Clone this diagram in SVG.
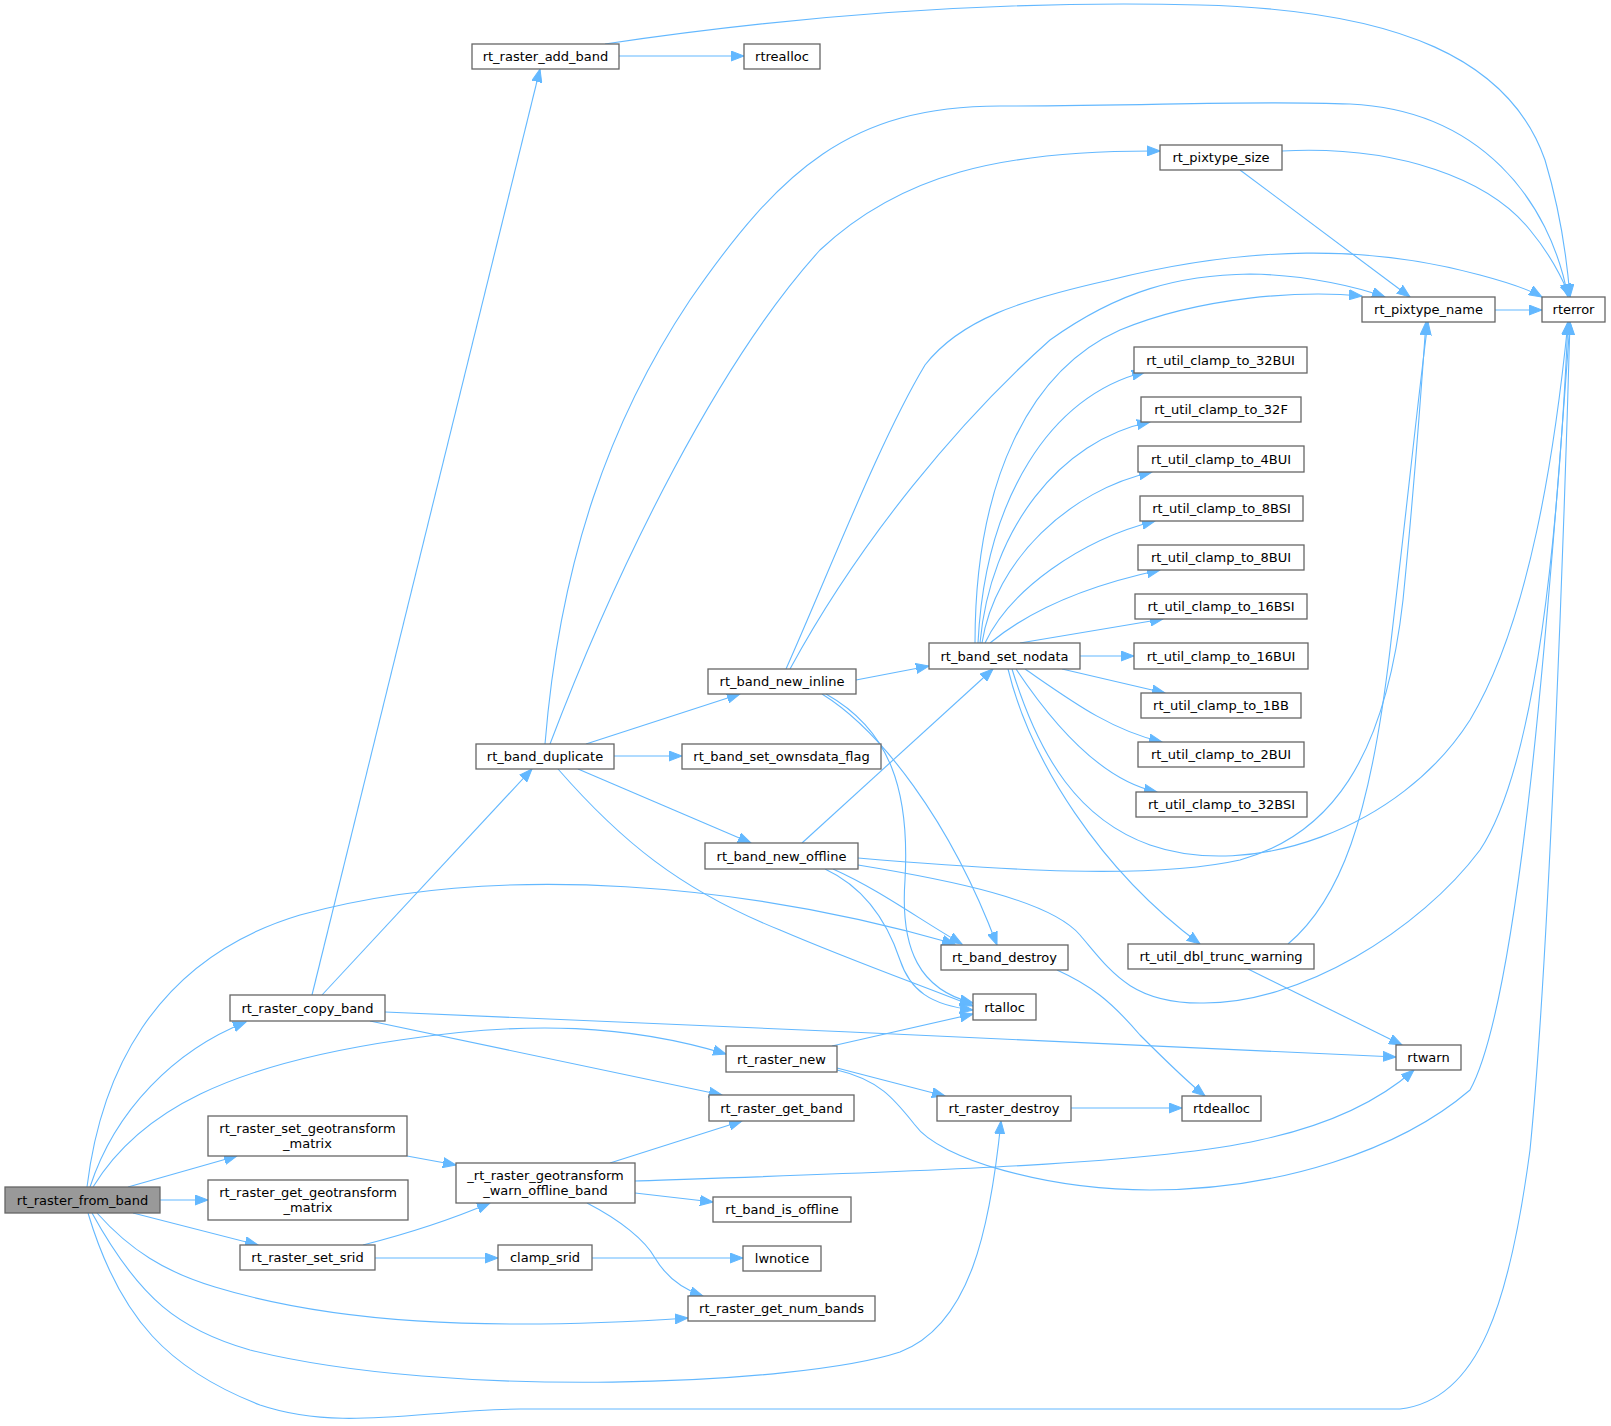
<svg xmlns="http://www.w3.org/2000/svg" width="1611" height="1426" viewBox="0 0 1611 1426">
<defs>
<style>
.n rect{fill:#ffffff;stroke:#666666;stroke-width:1.3}
.m rect{fill:#999999;stroke:#666666;stroke-width:1.3}
text{font-family:"DejaVu Sans","Liberation Sans",sans-serif;font-size:13px;text-anchor:middle;fill:#000000}
.e path{fill:none;stroke:#63b8ff;stroke-width:1.1;marker-end:url(#a)}
</style>
<marker id="a" markerWidth="14" markerHeight="11" refX="13" refY="5.5" orient="auto" markerUnits="userSpaceOnUse"><path d="M0,0.5 L13,5.5 L0,10.5 z" fill="#63b8ff" stroke="#63b8ff" stroke-width="1"/></marker>
</defs>
<rect width="1611" height="1426" fill="#ffffff"/>
<g id="edges" class="e">
<path d="M90,1187 C115,1110 175,1050 246,1022"/>
<path d="M87,1187 C100,1080 150,960 300,915 C500,860 750,885 955,944"/>
<path d="M93,1187 C140,1110 230,1065 400,1040 C530,1020 630,1025 726,1054"/>
<path d="M128,1187 L237,1156"/>
<path d="M160,1200 L208,1200"/>
<path d="M133,1213 L258,1245"/>
<path d="M97,1213 C130,1250 165,1272 215,1287 C330,1322 480,1332 688,1318"/>
<path d="M92,1213 C140,1300 180,1330 250,1350 C450,1400 800,1385 900,1352 C970,1325 990,1230 1001,1121"/>
<path d="M88,1213 C120,1320 170,1370 260,1405 C340,1432 420,1410 520,1409 L1400,1409 C1480,1400 1510,1300 1530,1150 C1550,950 1565,500 1570,322"/>
<path d="M312,995 L540,69"/>
<path d="M322,995 L532,769"/>
<path d="M385,1012 C700,1025 1100,1043 1396,1057"/>
<path d="M370,1021 L722,1095"/>
<path d="M619,56 L744,56"/>
<path d="M605,44 C800,15 1000,0 1200,5 C1400,10 1510,60 1545,160 C1560,210 1567,260 1570,297"/>
<path d="M545,744 C560,560 610,420 690,300 C780,170 850,106 1000,106 C1150,106 1250,100 1350,104 C1480,110 1550,200 1568,297"/>
<path d="M550,744 C620,560 720,360 820,250 C900,175 1000,150 1160,151"/>
<path d="M586,744 L740,694"/>
<path d="M614,756 L682,756"/>
<path d="M578,769 L751,843"/>
<path d="M558,769 C620,840 680,890 780,930 C850,960 920,985 973,1006"/>
<path d="M786,669 C830,570 880,440 925,365 C960,320 1020,300 1110,280 C1250,245 1370,245 1480,275 C1510,283 1530,290 1542,297"/>
<path d="M790,669 C860,540 960,420 1050,340 C1120,290 1180,275 1250,274 C1310,275 1360,288 1385,297"/>
<path d="M856,680 L929,666"/>
<path d="M822,694 C880,730 950,820 997,945"/>
<path d="M826,694 C890,730 910,790 905,880 C900,950 920,990 973,1003"/>
<path d="M802,843 L993,669"/>
<path d="M833,869 C880,890 920,920 962,944"/>
<path d="M825,869 C870,890 890,930 900,960 C910,990 930,1005 973,1010"/>
<path d="M858,865 C950,880 1050,900 1080,935 C1110,970 1130,1003 1200,1003 C1300,1005 1420,930 1480,850 C1540,760 1560,500 1568,322"/>
<path d="M858,858 C1000,870 1150,880 1240,860 C1330,835 1385,760 1403,600 C1415,480 1422,380 1426,322"/>
<path d="M975,643 C975,480 1030,370 1120,330 C1200,297 1300,290 1362,296"/>
<path d="M978,643 C985,500 1050,395 1145,372"/>
<path d="M980,643 C990,530 1060,440 1150,422"/>
<path d="M982,643 C995,560 1070,490 1152,472"/>
<path d="M985,643 C1010,590 1080,540 1155,521"/>
<path d="M990,643 C1030,610 1090,585 1160,570"/>
<path d="M1020,643 L1163,619"/>
<path d="M1080,656 L1134,656"/>
<path d="M1062,669 L1165,693"/>
<path d="M1025,669 C1070,700 1110,730 1162,742"/>
<path d="M1016,669 C1050,720 1100,780 1157,792"/>
<path d="M1008,669 C1030,760 1100,870 1200,944"/>
<path d="M1012,669 C1040,760 1080,820 1150,845 C1250,880 1400,830 1470,720 C1530,620 1555,450 1568,322"/>
<path d="M1248,969 L1402,1045"/>
<path d="M1288,944 C1340,900 1370,820 1390,650 C1410,480 1420,380 1428,322"/>
<path d="M1057,970 C1090,985 1110,1000 1140,1035 C1165,1060 1185,1080 1205,1096"/>
<path d="M1071,1108 L1182,1108"/>
<path d="M832,1046 L973,1014"/>
<path d="M837,1068 L945,1096"/>
<path d="M837,1070 C880,1080 895,1100 915,1125 C940,1160 1050,1190 1150,1190 C1280,1190 1400,1150 1470,1090 C1520,1000 1550,600 1570,322"/>
<path d="M610,1163 L742,1121"/>
<path d="M635,1181 C900,1172 1150,1165 1260,1140 C1330,1125 1380,1100 1414,1070"/>
<path d="M635,1193 L713,1202"/>
<path d="M587,1203 C620,1220 645,1240 655,1258 C668,1280 685,1290 703,1296"/>
<path d="M363,1245 C410,1233 450,1220 490,1203"/>
<path d="M375,1258 L498,1258"/>
<path d="M592,1258 L743,1258"/>
<path d="M407,1156 L456,1165"/>
<path d="M1282,151 C1400,145 1490,180 1530,230 C1555,260 1565,285 1570,297"/>
<path d="M1240,170 L1410,297"/>
<path d="M1495,310 L1542,310"/>
</g>
<g id="n_from" class="m"><rect x="5" y="1187" width="155" height="26"/><text x="82.5" y="1204.5">rt_raster_from_band</text></g>
<g id="n_copy" class="n"><rect x="230" y="995" width="155" height="26"/><text x="307.5" y="1012.5">rt_raster_copy_band</text></g>
<g id="n_setgeo" class="n"><rect x="208" y="1116" width="199" height="40"/><text x="307.5" y="1133">rt_raster_set_geotransform</text><text x="307.5" y="1148">_matrix</text></g>
<g id="n_getgeo" class="n"><rect x="208" y="1180" width="200" height="40"/><text x="308" y="1197">rt_raster_get_geotransform</text><text x="308" y="1212">_matrix</text></g>
<g id="n_srid" class="n"><rect x="240" y="1245" width="135" height="25"/><text x="307.5" y="1262">rt_raster_set_srid</text></g>
<g id="n_addband" class="n"><rect x="472" y="44" width="147" height="25"/><text x="545.5" y="61">rt_raster_add_band</text></g>
<g id="n_realloc" class="n"><rect x="744" y="44" width="76" height="25"/><text x="782" y="61">rtrealloc</text></g>
<g id="n_dup" class="n"><rect x="476" y="744" width="138" height="25"/><text x="545" y="761">rt_band_duplicate</text></g>
<g id="n_warnoff" class="n"><rect x="456" y="1163" width="179" height="40"/><text x="545.5" y="1180">_rt_raster_geotransform</text><text x="545.5" y="1195">_warn_offline_band</text></g>
<g id="n_clampsrid" class="n"><rect x="498" y="1245" width="94" height="25"/><text x="545" y="1262">clamp_srid</text></g>
<g id="n_new" class="n"><rect x="726" y="1046" width="111" height="26"/><text x="781.5" y="1063.5">rt_raster_new</text></g>
<g id="n_getband" class="n"><rect x="709" y="1095" width="145" height="26"/><text x="781.5" y="1112.5">rt_raster_get_band</text></g>
<g id="n_isoffline" class="n"><rect x="713" y="1197" width="138" height="25"/><text x="782" y="1214">rt_band_is_offline</text></g>
<g id="n_lwnotice" class="n"><rect x="743" y="1246" width="78" height="25"/><text x="782" y="1263">lwnotice</text></g>
<g id="n_numbands" class="n"><rect x="688" y="1296" width="187" height="25"/><text x="781.5" y="1313">rt_raster_get_num_bands</text></g>
<g id="n_inline" class="n"><rect x="708" y="669" width="148" height="25"/><text x="782" y="686">rt_band_new_inline</text></g>
<g id="n_owns" class="n"><rect x="682" y="744" width="199" height="25"/><text x="781.5" y="761">rt_band_set_ownsdata_flag</text></g>
<g id="n_offline" class="n"><rect x="705" y="843" width="153" height="26"/><text x="781.5" y="860.5">rt_band_new_offline</text></g>
<g id="n_nodata" class="n"><rect x="929" y="643" width="151" height="26"/><text x="1004.5" y="660.5">rt_band_set_nodata</text></g>
<g id="n_destroy" class="n"><rect x="941" y="945" width="127" height="25"/><text x="1004.5" y="962">rt_band_destroy</text></g>
<g id="n_alloc" class="n"><rect x="973" y="994" width="63" height="26"/><text x="1004.5" y="1011.5">rtalloc</text></g>
<g id="n_rdestroy" class="n"><rect x="937" y="1096" width="134" height="25"/><text x="1004" y="1113">rt_raster_destroy</text></g>
<g id="n_dealloc" class="n"><rect x="1182" y="1096" width="79" height="25"/><text x="1221.5" y="1113">rtdealloc</text></g>
<g id="n_pixsize" class="n"><rect x="1160" y="145" width="122" height="25"/><text x="1221" y="162">rt_pixtype_size</text></g>
<g id="n_pixname" class="n"><rect x="1362" y="297" width="133" height="25"/><text x="1428.5" y="314">rt_pixtype_name</text></g>
<g id="n_rterror" class="n"><rect x="1542" y="297" width="63" height="25"/><text x="1573.5" y="314">rterror</text></g>
<g id="n_c32bui" class="n"><rect x="1134" y="347" width="173" height="26"/><text x="1220.5" y="364.5">rt_util_clamp_to_32BUI</text></g>
<g id="n_c32f" class="n"><rect x="1141" y="397" width="160" height="25"/><text x="1221" y="414">rt_util_clamp_to_32F</text></g>
<g id="n_c4bui" class="n"><rect x="1138" y="446" width="166" height="26"/><text x="1221" y="463.5">rt_util_clamp_to_4BUI</text></g>
<g id="n_c8bsi" class="n"><rect x="1140" y="496" width="163" height="25"/><text x="1221.5" y="513">rt_util_clamp_to_8BSI</text></g>
<g id="n_c8bui" class="n"><rect x="1138" y="545" width="166" height="25"/><text x="1221" y="562">rt_util_clamp_to_8BUI</text></g>
<g id="n_c16bsi" class="n"><rect x="1135" y="594" width="172" height="25"/><text x="1221" y="611">rt_util_clamp_to_16BSI</text></g>
<g id="n_c16bui" class="n"><rect x="1134" y="643" width="174" height="26"/><text x="1221" y="660.5">rt_util_clamp_to_16BUI</text></g>
<g id="n_c1bb" class="n"><rect x="1141" y="693" width="160" height="25"/><text x="1221" y="710">rt_util_clamp_to_1BB</text></g>
<g id="n_c2bui" class="n"><rect x="1138" y="742" width="166" height="25"/><text x="1221" y="759">rt_util_clamp_to_2BUI</text></g>
<g id="n_c32bsi" class="n"><rect x="1136" y="792" width="171" height="25"/><text x="1221.5" y="809">rt_util_clamp_to_32BSI</text></g>
<g id="n_dbltrunc" class="n"><rect x="1128" y="944" width="186" height="25"/><text x="1221" y="961">rt_util_dbl_trunc_warning</text></g>
<g id="n_rtwarn" class="n"><rect x="1396" y="1045" width="65" height="25"/><text x="1428.5" y="1062">rtwarn</text></g>
</svg>
